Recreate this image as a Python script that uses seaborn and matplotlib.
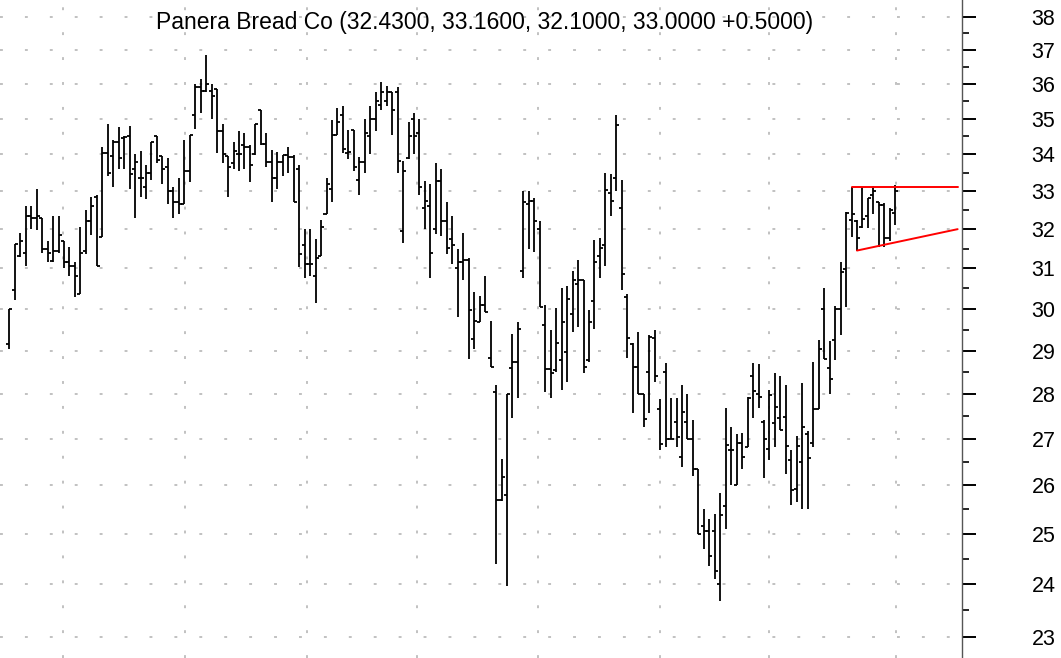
import numpy as np
import pandas as pd
import seaborn as sns
import matplotlib.pyplot as plt
from matplotlib.ticker import FixedLocator, NullFormatter, FuncFormatter

# Daily OHLC bars (oldest first)
opens = [29.15, 30.45, 31.3, 31.4, 32.35, 32.3, 32.3, 31.5, 31.18, 31.45,
         31.7, 31.15, 31.07, 30.35, 31.45, 32.2, 32.85, 31.8, 34.05, 33.95,
         34.35, 34.45, 34.5, 33.6, 33.35, 33.1, 33.5, 34.5, 33.95, 33.65,
         33.0, 32.7, 32.65, 33.55, 35.1, 35.9, 35.8, 35.8, 35.85, 34.65,
         33.95, 33.75, 34.0, 34.25, 34.2, 34.0, 35.25, 34.28, 33.8, 33.35,
         33.8, 33.97, 33.94, 33.6, 31.6, 31.1, 30.8, 31.3, 32.4, 33.05,
         34.55, 35.1, 34.03, 34.67, 33.3, 33.8, 34.5, 35.0, 35.4, 35.5,
         35.75, 35.75, 31.95, 33.9, 35.0, 34.58, 32.55, 32.6, 32.0, 33.27,
         32.2, 31.75, 31.0, 31.17, 31.2, 29.28, 29.68, 30.1, 28.83, 28.04,
         25.7, 25.79, 28.6, 28.74, 30.94, 32.66, 32.75, 32.0, 29.62, 28.56,
         28.55, 28.79, 28.96, 29.88, 30.62, 30.7, 28.78, 30.2, 31.3, 31.6,
         32.96, 33.35, 32.55, 30.3, 29.15, 28.62, 28.0, 28.51, 29.3, 27.65,
         28.51, 27.0, 27.38, 26.6, 27.38, 27.0, 26.35, 25.15, 25.05, 25.05,
         24.0, 25.56, 26.76, 26.0, 26.9, 26.83, 28.4, 28.0, 27.38, 26.78,
         27.35, 27.45, 27.48, 26.55, 25.93, 26.5, 27.1, 26.9, 27.66, 30.0,
         28.6, 29.26, 30.0, 30.98, 32.25, 32.2, 32.06, 32.33, 32.9, 32.7,
         32.62, 31.76, 32.43]
highs = [30.0, 31.62, 31.9, 32.6, 32.6, 33.05, 32.3, 31.7, 32.35, 32.35,
         31.7, 31.55, 31.15, 32.05, 32.5, 32.85, 32.9, 34.2, 34.85, 34.4,
         34.75, 34.5, 34.8, 34.0, 34.1, 33.7, 34.35, 34.5, 33.95, 33.9,
         33.1, 33.35, 34.4, 34.55, 36.0, 36.15, 36.85, 36.0, 35.85, 34.85,
         33.95, 34.35, 34.65, 34.6, 34.25, 34.86, 35.25, 34.58, 34.12, 34.06,
         33.98, 34.2, 33.97, 33.7, 32.0, 32.0, 31.75, 32.25, 33.35, 34.95,
         35.3, 35.35, 34.67, 34.67, 33.94, 35.0, 35.35, 35.75, 36.05, 35.93,
         35.75, 35.9, 33.83, 34.9, 35.17, 35.0, 33.27, 33.18, 33.75, 33.6,
         32.72, 32.35, 31.5, 31.9, 31.25, 30.4, 30.32, 30.8, 29.7, 28.21,
         26.57, 28.0, 29.4, 29.67, 33.0, 33.0, 32.82, 32.22, 30.1, 29.5,
         30.02, 30.5, 30.57, 30.94, 31.22, 30.7, 29.96, 31.72, 31.76, 33.5,
         33.45, 35.1, 33.3, 30.35, 29.18, 29.43, 28.0, 29.37, 29.48, 27.89,
         28.7, 27.9, 27.9, 28.21, 28.0, 27.42, 26.35, 25.5, 25.3, 25.4,
         25.85, 27.68, 27.27, 27.1, 27.12, 27.93, 28.7, 28.68, 27.42, 28.1,
         28.47, 28.4, 28.2, 26.76, 27.07, 28.26, 27.17, 28.74, 29.26, 30.5,
         29.23, 30.06, 31.15, 32.45, 33.1, 32.23, 33.1, 32.83, 33.15, 32.7,
         32.68, 32.55, 33.16]
lows = [29.05, 30.22, 31.28, 31.05, 32.0, 31.98, 31.4, 31.15, 31.15, 31.4,
        31.0, 30.8, 30.3, 30.35, 31.35, 31.85, 31.05, 31.8, 33.4, 33.1,
        33.6, 33.6, 33.05, 32.3, 32.85, 32.8, 33.3, 33.75, 33.2, 32.65,
        32.3, 32.4, 32.65, 33.25, 34.7, 35.15, 35.75, 35.0, 34.05, 33.75,
        32.85, 33.6, 33.55, 33.6, 33.25, 33.98, 34.26, 33.65, 32.7, 33.05,
        33.42, 33.5, 32.72, 31.04, 30.75, 30.8, 30.15, 31.3, 32.4, 32.7,
        34.55, 34.03, 33.88, 33.55, 32.9, 33.5, 34.0, 34.65, 35.25, 35.35,
        34.55, 33.5, 31.65, 33.88, 34.0, 32.9, 32.0, 30.75, 31.88, 31.83,
        31.35, 31.1, 29.8, 30.7, 28.8, 29.03, 29.68, 29.92, 28.62, 24.4,
        25.68, 23.97, 27.45, 27.9, 30.77, 31.5, 31.42, 30.04, 28.05, 27.9,
        28.51, 28.1, 28.28, 29.43, 29.55, 28.47, 28.74, 29.52, 30.77, 31.07,
        32.33, 33.0, 30.45, 28.83, 27.56, 28.0, 27.26, 27.56, 28.28, 26.75,
        26.83, 27.0, 26.83, 26.4, 27.0, 26.2, 25.0, 24.7, 24.35, 24.1,
        23.67, 25.1, 26.0, 26.0, 26.35, 26.83, 27.45, 27.68, 26.15, 26.55,
        26.83, 27.2, 26.25, 25.6, 25.65, 25.5, 25.5, 26.83, 27.65, 28.8,
        28.0, 28.78, 29.37, 30.04, 31.8, 31.45, 32.02, 32.02, 32.4, 31.55,
        31.53, 31.7, 32.1]
closes = [30.0, 31.62, 31.7, 32.35, 32.3, 32.35, 31.5, 31.4, 31.45, 31.85,
          31.15, 31.07, 30.8, 31.4, 32.2, 32.6, 31.05, 34.05, 33.5, 34.35,
          33.9, 34.48, 33.45, 33.8, 33.35, 33.5, 34.35, 33.85, 33.6, 33.0,
          32.7, 32.65, 33.55, 34.55, 35.9, 35.8, 36.0, 35.65, 34.65, 34.0,
          33.65, 34.1, 34.0, 34.2, 33.7, 34.86, 34.28, 33.8, 33.35, 33.8,
          33.97, 33.94, 32.72, 31.35, 31.1, 31.12, 31.25, 32.05, 33.2, 34.55,
          34.9, 34.15, 34.06, 33.66, 33.8, 34.58, 35.0, 35.5, 35.75, 35.75,
          35.25, 33.83, 33.55, 34.5, 34.5, 33.12, 32.75, 31.4, 33.27, 32.2,
          31.52, 31.58, 31.17, 31.22, 29.96, 29.7, 30.1, 29.92, 28.62, 25.7,
          26.18, 28.0, 28.74, 29.52, 32.7, 32.75, 32.22, 30.04, 28.56, 28.47,
          29.18, 29.67, 30.25, 30.7, 30.7, 28.62, 29.67, 31.17, 31.52, 33.04,
          32.75, 34.83, 30.86, 29.3, 28.62, 28.0, 27.43, 29.32, 28.4, 26.89,
          27.0, 27.0, 27.05, 27.6, 27.0, 26.35, 25.0, 25.05, 24.55, 24.26,
          25.38, 26.86, 26.76, 26.9, 26.6, 27.9, 28.06, 27.93, 27.0, 27.97,
          27.7, 27.2, 26.85, 25.9, 26.85, 27.27, 26.58, 27.66, 29.04, 28.81,
          28.35, 30.0, 30.9, 32.43, 32.4, 31.76, 32.27, 32.83, 33.0, 32.62,
          31.76, 32.5, 33.0]

# hand-drawn triangle trendlines (bar index, price)
upper_line_x = [154, 173.4]
upper_line_y = [33.1, 33.1]
lower_line_x = [155, 173.4]
lower_line_y = [31.45, 32.0]

# month separators (bar index)
month_breaks = [9.8, 32.1, 54.4, 74.5, 96.6, 118.9, 139.0, 162.1]
price_ticks = list(range(23, 39))

title = "Panera Bread Co (32.4300, 33.1600, 32.1000, 33.0000 +0.5000)"

df = pd.DataFrame({"open": opens, "high": highs, "low": lows, "close": closes})
df["idx"] = np.arange(len(df))

sns.set_style("white")
plt.rcParams["font.family"] = ["Liberation Sans", "DejaVu Sans"]

fig = plt.figure(figsize=(10.61, 6.58), dpi=100)
ax = fig.add_axes([0, 0, 962 / 1061, 1])

# OHLC bars
tick = 0.55
ax.vlines(df["idx"], df["low"], df["high"], color="black", linewidth=1.3, zorder=3)
ax.hlines(df["open"], df["idx"] - tick, df["idx"], color="black", linewidth=1.3, zorder=3)
ax.hlines(df["close"], df["idx"], df["idx"] + tick, color="black", linewidth=1.3, zorder=3)

# trendlines
sns.lineplot(x=upper_line_x, y=upper_line_y, color="#ff0000", linewidth=1.4, ax=ax, zorder=4)
sns.lineplot(x=lower_line_x, y=lower_line_y, color="#ff0000", linewidth=1.4, ax=ax, zorder=4)

ax.set_yscale("log")
ax.set_ylim(22.606, 38.53)
ax.set_xlim(-1.7, 174.2)

ax.yaxis.tick_right()
ax.yaxis.set_major_locator(FixedLocator(price_ticks))
ax.yaxis.set_major_formatter(FuncFormatter(lambda v, p: f"{v:.0f}"))
ax.yaxis.set_minor_locator(FixedLocator([t + 0.5 for t in price_ticks[:-1]]))
ax.yaxis.set_minor_formatter(NullFormatter())
ax.tick_params(axis="y", which="major", length=10, width=1.4, color="black",
               pad=40, labelsize=15.5, labelcolor="black")
ax.tick_params(axis="y", which="minor", length=5, width=1.2, color="black")

ax.set_xticks(month_breaks)
ax.tick_params(axis="x", length=0, labelbottom=False)

grid_kw = dict(color="#bcbcbc", linewidth=1.3, dashes=(1.6, 12.2))
ax.grid(axis="y", which="major", **grid_kw)
ax.grid(axis="x", which="major", **grid_kw)

for side in ["left", "top", "bottom"]:
    ax.spines[side].set_visible(False)
ax.spines["right"].set_color("#555555")
ax.spines["right"].set_linewidth(1.0)
ax.set_xlabel("")
ax.set_ylabel("")

fig.text(485 / 1061, 1 - 22 / 658, title, ha="center", va="center",
         fontsize=16.5, color="black")

fig.savefig("out.png", dpi=100)
